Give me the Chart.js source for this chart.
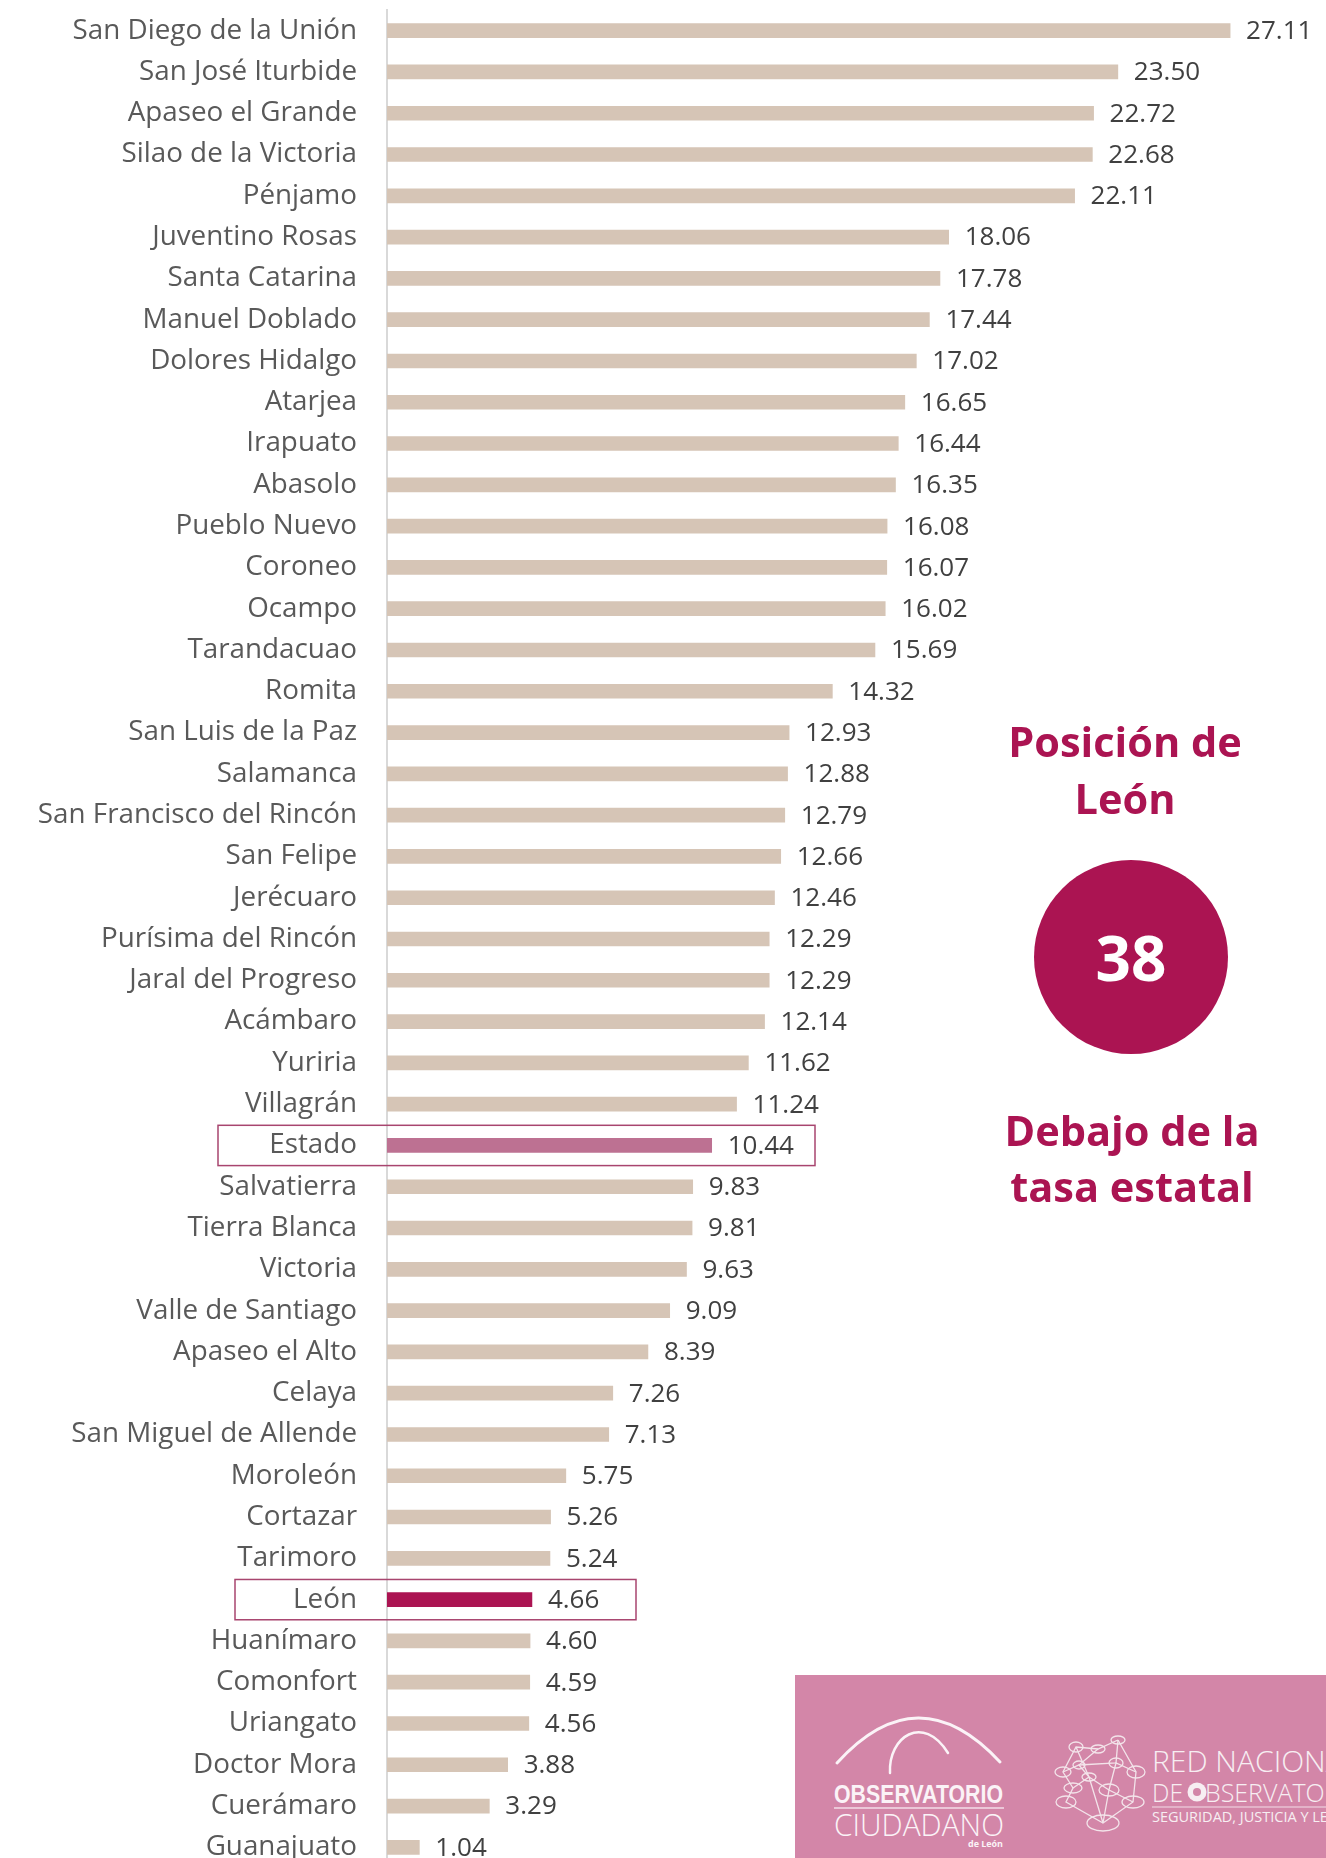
<!DOCTYPE html>
<html lang="es">
<head>
<meta charset="utf-8">
<title>Tasa por municipio - Guanajuato</title>
<script src="https://cdn.jsdelivr.net/npm/chart.js@4.4.1/dist/chart.umd.min.js"></script>
<style>
  html, body { margin: 0; padding: 0; background: #fff; }
  body { width: 1326px; height: 1858px; overflow: hidden; position: relative; font-family: 'Open Sans', sans-serif; }
  #wrap { position: absolute; left: 0; top: 0; width: 1326px; height: 1858px; overflow: hidden; }
  #chart { position: absolute; left: 0; top: 0; }
  .side { position: absolute; color: #ab1452; font-weight: 700; font-size: 41.5px; line-height: 57px; text-align: center; width: 400px; }
  #circle { position: absolute; left: 1034px; top: 860px; width: 194px; height: 194px; border-radius: 50%; background: #ab1452;
            color: #fff; font-weight: 700; font-size: 62px; display: flex; align-items: center; justify-content: center; }
  #logos { position: absolute; left: 795px; top: 1675px; width: 531px; height: 183px; background: #d386a8; overflow: hidden; }
</style>
</head>
<body>
<div id="wrap">
  <canvas id="chart" width="1326" height="1870"></canvas>

  <div class="side" style="left:925px; top:713px;">Posición de<br>León</div>
  <div id="circle">38</div>
  <div class="side" style="left:932px; top:1102px; line-height:56px;">Debajo de la<br>tasa estatal</div>

  <div id="logos">
    <svg width="531" height="183" xmlns="http://www.w3.org/2000/svg">
      <g fill="none" stroke="#fbf3f7" stroke-linecap="round">
        <path d="M 42 88 Q 123 -1.5 205 87" stroke-width="3"/>
        <path d="M 95 98 C 93 62, 128 38, 153 78" stroke-width="2.5"/>
      </g>
      <text x="39" y="128" fill="#fbf3f7" font-family="'Liberation Sans Narrow', 'Liberation Sans', sans-serif" font-weight="700" font-size="25" textLength="169" lengthAdjust="spacingAndGlyphs">OBSERVATORIO</text>
      <line x1="39" y1="133" x2="209" y2="133" stroke="#f3dde8" stroke-width="1.5"/>
      <text x="39" y="161" fill="#fbf3f7" font-family="'Open Sans', sans-serif" font-weight="300" font-size="31" textLength="170" lengthAdjust="spacingAndGlyphs">CIUDADANO</text>
      <text x="173" y="172" fill="#fbf3f7" font-family="'Open Sans', sans-serif" font-weight="700" font-size="9" textLength="35" lengthAdjust="spacingAndGlyphs">de León</text>

      <g fill="none" stroke="#f3e4ea" stroke-width="1.3">
        <polyline points="323,65 303,74 281,72 268,97 278,113 271,127 308,148 338,127 341,97 323,65"/>
        <polyline points="303,74 284,90 294,102 314,115 321,88 341,97"/>
        <polyline points="281,72 294,102 278,113"/>
        <polyline points="323,65 321,88 284,90 268,97"/>
        <polyline points="314,115 308,148 294,102"/>
        <polyline points="314,115 338,127"/>
        <ellipse cx="323" cy="65" rx="7" ry="4"/>
        <ellipse cx="303" cy="74" rx="7" ry="4"/>
        <ellipse cx="281" cy="72" rx="7" ry="5"/>
        <ellipse cx="268" cy="97" rx="8" ry="5"/>
        <ellipse cx="284" cy="90" rx="6" ry="4"/>
        <ellipse cx="321" cy="88" rx="7" ry="5"/>
        <ellipse cx="341" cy="97" rx="9" ry="6"/>
        <ellipse cx="294" cy="102" rx="7" ry="4"/>
        <ellipse cx="314" cy="115" rx="10" ry="6"/>
        <ellipse cx="278" cy="113" rx="9" ry="5"/>
        <ellipse cx="338" cy="127" rx="11" ry="6"/>
        <ellipse cx="308" cy="148" rx="16" ry="8"/>
        <ellipse cx="271" cy="127" rx="10" ry="6"/>
      </g>
      <text x="357" y="97" fill="#f7eef2" font-family="'Open Sans', sans-serif" font-weight="300" font-size="30">RED NACIONAL</text>
      <text x="357" y="127" fill="#f7eef2" font-family="'Open Sans', sans-serif" font-weight="300" font-size="26" textLength="31" lengthAdjust="spacingAndGlyphs">DE</text>
      <circle cx="402" cy="117" r="9.5" fill="#f7eef2"/>
      <circle cx="402" cy="117" r="4" fill="#d386a8"/>
      <text x="410" y="127" fill="#f7eef2" font-family="'Open Sans', sans-serif" font-weight="300" font-size="25">BSERVATORIOS</text>
      <line x1="357" y1="132" x2="531" y2="132" stroke="#f3dde8" stroke-width="1.2"/>
      <text x="357" y="147" fill="#f7eef2" font-family="'Open Sans', sans-serif" font-weight="400" font-size="14.5">SEGURIDAD, JUSTICIA Y LEGALIDAD</text>
    </svg>
  </div>
</div>

<script>
// ============================================================
// Data: tasa por municipio (ordenado de mayor a menor)
// ============================================================
const municipios = [
  'San Diego de la Unión', 'San José Iturbide', 'Apaseo el Grande', 'Silao de la Victoria',
  'Pénjamo', 'Juventino Rosas', 'Santa Catarina', 'Manuel Doblado', 'Dolores Hidalgo',
  'Atarjea', 'Irapuato', 'Abasolo', 'Pueblo Nuevo', 'Coroneo', 'Ocampo', 'Tarandacuao',
  'Romita', 'San Luis de la Paz', 'Salamanca', 'San Francisco del Rincón', 'San Felipe',
  'Jerécuaro', 'Purísima del Rincón', 'Jaral del Progreso', 'Acámbaro', 'Yuriria',
  'Villagrán', 'Estado', 'Salvatierra', 'Tierra Blanca', 'Victoria', 'Valle de Santiago',
  'Apaseo el Alto', 'Celaya', 'San Miguel de Allende', 'Moroleón', 'Cortazar', 'Tarimoro',
  'León', 'Huanímaro', 'Comonfort', 'Uriangato', 'Doctor Mora', 'Cuerámaro', 'Guanajuato'
];

const tasas = [
  27.11, 23.50, 22.72, 22.68,
  22.11, 18.06, 17.78, 17.44, 17.02,
  16.65, 16.44, 16.35, 16.08, 16.07, 16.02, 15.69,
  14.32, 12.93, 12.88, 12.79, 12.66,
  12.46, 12.29, 12.29, 12.14, 11.62,
  11.24, 10.44, 9.83, 9.81, 9.63, 9.09,
  8.39, 7.26, 7.13, 5.75, 5.26, 5.24,
  4.66, 4.60, 4.59, 4.56, 3.88, 3.29, 1.04
];

// highlighted rows (bar colour + framed box)
const destacados = ['Estado', 'León'];
const colorBase = '#d6c5b6';
const colorDestacado = { 'Estado': '#bd7192', 'León': '#ab1452' };
// horizontal extent of the frames drawn around highlighted rows (px)
const marcoX = { 'Estado': [218, 815], 'León': [235, 636] };

const barColors = municipios.map(m => colorDestacado[m] || colorBase);

// ============================================================
// Plugins: value labels + frames
// ============================================================
const valueLabels = {
  id: 'valueLabels',
  afterDatasetsDraw(chart) {
    const { ctx } = chart;
    const meta = chart.getDatasetMeta(0);
    ctx.save();
    ctx.font = '26px "Open Sans"';
    ctx.fillStyle = '#404040';
    ctx.textAlign = 'left';
    ctx.textBaseline = 'middle';
    meta.data.forEach((bar, i) => {
      ctx.fillText(tasas[i].toFixed(2), bar.x + 16, bar.y + 1);
    });
    ctx.restore();
  }
};

const marcos = {
  id: 'marcos',
  afterDraw(chart) {
    const { ctx } = chart;
    const y = chart.scales.y;
    const half = (y.getPixelForValue(1) - y.getPixelForValue(0)) / 2;
    ctx.save();
    ctx.strokeStyle = '#a8456f';
    ctx.lineWidth = 1.5;
    destacados.forEach(name => {
      const idx = municipios.indexOf(name);
      const cy = y.getPixelForValue(idx);
      const [x0, x1] = marcoX[name];
      ctx.strokeRect(x0, cy - half + 0.5, x1 - x0, half * 2 - 1);
    });
    ctx.restore();
  }
};

// ============================================================
// Chart
// ============================================================
new Chart(document.getElementById('chart'), {
  type: 'bar',
  data: {
    labels: municipios,
    datasets: [{
      data: tasas,
      backgroundColor: barColors,
      borderWidth: 0,
      barThickness: 14
    }]
  },
  options: {
    indexAxis: 'y',
    responsive: false,
    animation: false,
    devicePixelRatio: 1,
    layout: { padding: { top: 10, bottom: 2, left: 0, right: 6 } },
    plugins: {
      legend: { display: false },
      tooltip: { enabled: false }
    },
    scales: {
      x: { display: false, min: 0, max: 30 },
      y: {
        grid: { display: false, drawTicks: false },
        border: { display: true, color: '#d9d9d9', width: 2 },
        ticks: {
          autoSkip: false,
          color: '#595959',
          padding: 30,
          font: { family: 'Open Sans', size: 27.8 }
        },
        afterFit: s => {
          s.width = 387;
          // labels sit in the middle of each band, no overflow padding needed
          s.paddingTop = 0;
          s.paddingBottom = 0;
        }
      }
    }
  },
  plugins: [valueLabels, marcos]
});
</script>
</body>
</html>
